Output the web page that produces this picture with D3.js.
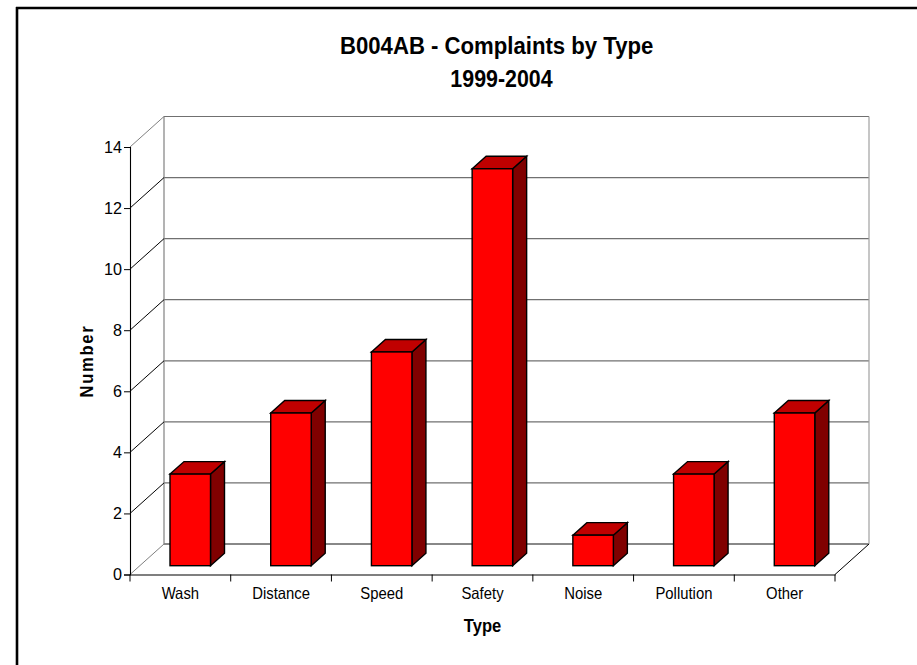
<!DOCTYPE html>
<html><head><meta charset="utf-8">
<script src="https://cdn.jsdelivr.net/npm/d3@7"></script>
<style>html,body{margin:0;padding:0;background:#fff;overflow:hidden}svg{display:block}text{font-family:"Liberation Sans",Arial,sans-serif;fill:#000}</style>
</head><body><div id="c"></div>
<script>
const categories=["Wash","Distance","Speed","Safety","Noise","Pollution","Other"];
const values=[3,5,7,13,1,3,5];
const yTicks=[0,2,4,6,8,10,12,14];
const titleLines=["B004AB - Complaints by Type","1999-2004"];
const W=917,H=665;
const svg=d3.select("#c").append("svg").attr("width",W).attr("height",H);
// frame: top and left edges only, running off the page
svg.append("line").attr("x1",16).attr("x2",W).attr("y1",8).attr("y2",8).attr("stroke","#000").attr("stroke-width",2.6);
svg.append("line").attr("x1",17).attr("x2",17).attr("y1",7).attr("y2",H).attr("stroke","#000").attr("stroke-width",2.6);
const x=d3.scaleBand().domain(categories).range([130,835]);
const y=d3.scaleLinear().domain([0,14]).range([574.5,147]);
const dx=34,dy=-30.5;
const wall="#808080";
const g=svg.append("g").attr("fill","none");
g.selectAll(".grid").data(yTicks).join("line").attr("x1",x.range()[0]+dx).attr("x2",x.range()[1]+dx)
 .attr("y1",d=>y(d)+dy).attr("y2",d=>y(d)+dy).attr("stroke",d=>d===0?"#606060":"#707070").attr("stroke-width",d=>d===0?1.5:1.2);
g.append("line").attr("x1",x.range()[0]+dx).attr("x2",x.range()[0]+dx).attr("y1",y(0)+dy).attr("y2",y(14)+dy).attr("stroke",wall).attr("stroke-width",1.2);
g.append("line").attr("x1",x.range()[1]+dx).attr("x2",x.range()[1]+dx).attr("y1",y(0)+dy).attr("y2",y(14)+dy).attr("stroke","#a0a0a0").attr("stroke-width",1.2);
g.selectAll(".side").data(yTicks).join("line").attr("x1",x.range()[0]).attr("x2",x.range()[0]+dx)
 .attr("y1",d=>y(d)).attr("y2",d=>y(d)+dy).attr("stroke",d=>(d===0||d===14)?wall:"#000");
g.append("line").attr("x1",x.range()[1]).attr("x2",x.range()[1]+dx).attr("y1",y(0)).attr("y2",y(0)+dy).attr("stroke","#000");
// bars
const bw=40.5,bdx=14,bdy=-12.5,bx=40,lift=-8.8,sw=1.4;
const bars=svg.append("g").selectAll("g").data(categories.map((c,i)=>({c,v:values[i]}))).join("g");
const p=a=>a.map(q=>q.join(",")).join(" ");
bars.each(function(d){
 const s=d3.select(this),l=x(d.c)+bx,r=l+bw,b=y(0)+lift,t=y(d.v)+lift;
 s.append("polygon").attr("points",p([[r,t],[r+bdx,t+bdy],[r+bdx,b+bdy],[r,b]])).attr("fill","#800000").attr("stroke","#000").attr("stroke-width",sw);
 s.append("polygon").attr("points",p([[l,t],[l+bdx,t+bdy],[r+bdx,t+bdy],[r,t]])).attr("fill","#c00000").attr("stroke","#000").attr("stroke-width",sw);
 s.append("rect").attr("x",l).attr("y",t).attr("width",bw).attr("height",b-t).attr("fill","#ff0000").attr("stroke","#000").attr("stroke-width",sw);
});
// condense text horizontally, keeping the glyph height
function squeeze(sel,k){sel.each(function(d,i){const len=this.getComputedTextLength();
 d3.select(this).attr("textLength",len*(typeof k==="function"?k(d,i):k)).attr("lengthAdjust","spacingAndGlyphs");});}
// axes
const ax=svg.append("g").attr("transform",`translate(${x.range()[0]},0)`)
 .call(d3.axisLeft(y).tickValues(yTicks).tickSize(6).tickPadding(2));
const bax=svg.append("g").attr("transform",`translate(0,${y(0)})`)
 .call(d3.axisBottom(x).tickSize(0).tickPadding(13));
const edges=categories.map(c=>x(c)).concat([x.range()[1]]);
bax.selectAll(".edge").data(edges).join("line").attr("class","edge").attr("x1",d=>d).attr("x2",d=>d).attr("y1",0).attr("y2",7).attr("stroke","#000");
[ax,bax].forEach(a=>{a.select(".domain").attr("stroke","#000").attr("stroke-width",1.1);a.selectAll(".tick line").attr("stroke","#000");
 a.selectAll("text").attr("font-size",16.5).attr("font-family",'"Liberation Sans",Arial,sans-serif');});
ax.selectAll("text").attr("font-size",17);
ax.selectAll(".tick text").attr("x",-8);
squeeze(ax.selectAll("text"),0.95);
squeeze(bax.selectAll("text"),0.9);
// titles
const tt=svg.append("g").selectAll("text").data(titleLines).join("text").attr("x",(d,i)=>i?501.5:496.7).attr("y",(d,i)=>53.5+i*33)
 .attr("text-anchor","middle").attr("font-size",23).attr("font-weight","bold").text(d=>d);
squeeze(tt,(d,i)=>i?0.93:0.963);
const tx=svg.append("text").attr("x",482.5).attr("y",631.5).attr("text-anchor","middle").attr("font-size",19).attr("font-weight","bold").text("Type");
squeeze(tx,0.87);
svg.append("text").attr("transform","translate(92.7,361) rotate(-90) scale(0.87,1)").attr("text-anchor","middle").attr("font-size",19).attr("font-weight","bold").attr("letter-spacing",2).text("Number");
</script></body></html>
